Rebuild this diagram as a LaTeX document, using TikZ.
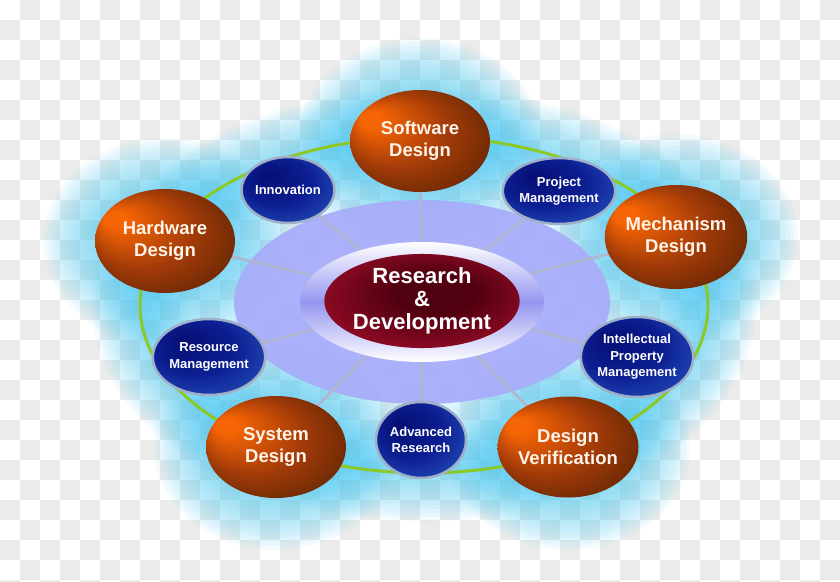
\documentclass[tikz,border=0pt]{standalone}
\usepackage{fontspec}
\setmainfont{Liberation Sans}
\usetikzlibrary{shapes.geometric}
\definecolor{chk}{RGB}{235,235,235}
\definecolor{glowc}{RGB}{85,205,245}
\definecolor{ringgreen}{RGB}{140,200,40}
\definecolor{lav}{RGB}{168,172,250}
\definecolor{spokec}{RGB}{175,182,205}
\definecolor{orA}{RGB}{245,100,5}
\definecolor{orB}{RGB}{160,58,8}
\definecolor{orC}{RGB}{92,36,4}
\definecolor{blA}{RGB}{6,14,115}
\definecolor{blB}{RGB}{12,30,145}
\definecolor{blC}{RGB}{45,95,200}
\definecolor{rimc}{RGB}{160,175,200}
\definecolor{mrA}{RGB}{80,0,16}
\definecolor{mrB}{RGB}{170,15,45}
\definecolor{ringin}{RGB}{150,150,240}
\definecolor{txtw}{RGB}{255,245,235}
\pgfdeclareradialshading{orangeball}{\pgfpoint{-20bp}{12bp}}{color(0bp)=(orA); color(4bp)=(orA); color(19bp)=(orB); color(33bp)=(orC)}
\pgfdeclareradialshading{blueball}{\pgfpoint{-12bp}{12bp}}{color(0bp)=(blA); color(18bp)=(blB); color(40bp)=(blC)}
\pgfdeclareradialshading{maroonball}{\pgfpoint{5bp}{6bp}}{color(0bp)=(mrA); color(10bp)=(mrA); color(36bp)=(mrB)}
\pgfdeclarelayer{bgl}\pgfdeclarelayer{glowl}\pgfdeclarelayer{lavl}\pgfdeclarelayer{spokel}
\pgfsetlayers{bgl,glowl,lavl,spokel,main}
\tikzset{
  orangenode/.style={ellipse, minimum width=140pt, minimum height=102pt, inner sep=0pt,
    shading=orangeball, text=txtw, font=\fontsize{18.5}{22}\selectfont\bfseries, align=center},
  bluenode/.style={ellipse, minimum width=88pt, minimum height=66pt, inner sep=0pt,
    shading=blueball, draw=rimc, line width=2.5pt, text=white,
    font=\fontsize{13}{16.5}\selectfont\bfseries, align=center},
  centernode/.style={ellipse, minimum width=186pt, minimum height=94pt, inner sep=0pt,
    shading=maroonball, text=white, font=\fontsize{22}{23}\selectfont\bfseries, align=center},
  spoke/.style={spokec, line width=2.5pt},
  greenring/.style={ringgreen, line width=3pt},
  glowfill/.style={glowc, opacity=0.065},
}
\begin{document}
\begin{tikzpicture}[x=1pt,y=-1pt]
\useasboundingbox (0,0) rectangle (840,581);
% nodes (main layer)
\shade[top color=white, bottom color=white, middle color=ringin] (422,302) ellipse [x radius=122, y radius=60];
\node[centernode] (rd) at (422,301) {Research\\\&\\Development};
\node[orangenode] (sw) at (420,141) {Software\\Design};
\node[orangenode, minimum height=104pt] (mech) at (676,237) {Mechanism\\Design};
\node[orangenode, minimum height=101pt] (ver) at (568,447) {Design\\Verification};
\node[orangenode] (sys) at (276,447) {System\\Design};
\node[orangenode, minimum height=104pt] (hw) at (165,241) {Hardware\\Design};
\node[bluenode, minimum width=86pt] (inn) at (288,190) {Innovation};
\node[bluenode] (pm) at (559,191) {Project\\Management};
\node[bluenode, minimum width=104pt, minimum height=80pt] (ipm) at (637,357) {Intellectual\\Property\\Management};
\node[bluenode, minimum width=90pt, minimum height=76pt] (ar) at (421,440) {Advanced\\Research};
\node[bluenode, minimum width=94pt, minimum height=76pt] (rm) at (209,357) {Resource\\Management};
% checkerboard
\begin{pgfonlayer}{bgl}
  \fill[white] (0,0) rectangle (840,581);
  \foreach \yy in {0,40,...,560} \foreach \xx in {20,60,...,820} \fill[chk] (\xx,\yy) rectangle ++(20,20);
  \foreach \yy in {20,60,...,580} \foreach \xx in {0,40,...,800} \fill[chk] (\xx,\yy) rectangle ++(20,20);
\end{pgfonlayer}
% glow
\begin{pgfonlayer}{glowl}
  \fill[glowc, opacity=0.2] (424,305) ellipse [x radius=284, y radius=168];
  \foreach \w in {8,16,...,96} \draw[glowc, opacity=0.07, line width=\w] (424,305) ellipse [x radius=284, y radius=168];
  \foreach \c in {sw,mech,ver,sys,hw} {
    \foreach \k in {1,...,13} \fill[glowfill] (\c.center) ellipse [x radius=70+4*\k, y radius=51+4*\k];
  }
\end{pgfonlayer}
% lavender and green ring
\begin{pgfonlayer}{lavl}
  \draw[greenring] (424,305) ellipse [x radius=284, y radius=168];
  \fill[lav, opacity=0.93] (422,302) ellipse [x radius=188, y radius=102];
\end{pgfonlayer}
% spokes
\begin{pgfonlayer}{spokel}
  \foreach \n in {sw,pm,mech,ipm,ver,ar,sys,rm,hw,inn} \draw[spoke] (rd.center) -- (\n.center);
\end{pgfonlayer}
\end{tikzpicture}
\end{document}
